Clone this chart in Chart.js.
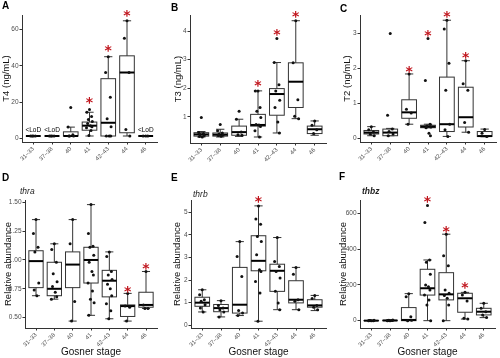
<!DOCTYPE html>
<html>
<head>
<meta charset="utf-8">
<script src="https://cdn.jsdelivr.net/npm/chart.js@4/dist/chart.umd.min.js"></script>
<style>
  body { margin: 0; background: #fff; }
  #fig { position: relative; width: 500px; height: 358px; overflow: hidden; background: #fff;
         font-family: 'Liberation Sans', Arial, sans-serif; }
  #fig canvas { position: absolute; }
  .tag { position: absolute; font-weight: bold; font-size: 10px; line-height: 10px; color: #000; }
  .gene { position: absolute; font-style: italic; font-size: 8.5px; line-height: 9px; color: #222; }
</style>
</head>
<body>
<div id="fig">
  <canvas id="c-t4" width="165" height="175" style="left:0;top:0"></canvas>
  <canvas id="c-t3" width="165" height="175" style="left:165px;top:0"></canvas>
  <canvas id="c-t2" width="170" height="175" style="left:330px;top:0"></canvas>
  <canvas id="c-thra" width="165" height="183" style="left:0;top:175px"></canvas>
  <canvas id="c-thrb" width="165" height="183" style="left:165px;top:175px"></canvas>
  <canvas id="c-thbz" width="170" height="183" style="left:330px;top:175px"></canvas>

  <div class="tag" style="left:2px;top:1px">A</div>
  <div class="tag" style="left:171px;top:3px">B</div>
  <div class="tag" style="left:340px;top:4px">C</div>
  <div class="tag" style="left:2px;top:173px">D</div>
  <div class="tag" style="left:171px;top:173px">E</div>
  <div class="tag" style="left:339px;top:172px">F</div>

  <div class="gene" style="left:20px;top:187px">thra</div>
  <div class="gene" style="left:193px;top:190px">thrb</div>
  <div class="gene" style="left:362px;top:187px;font-weight:bold">thbz</div>
</div>

<script>
// Gosner stage groups (x categories)
const stages = ['31–33', '37–38', '40', '41', '42–43', '44', '46'];

// small horizontal offsets for the dots, as a fraction of one category
const jitter = [0, -0.14, 0.11, -0.06, 0.15, -0.1, 0.05, 0.13, -0.16, 0.08, -0.03, 0.17, -0.12];

// box stats per stage: [lower whisker, q1, median, q3, upper whisker]
const t4Box = [[1.3, 1.3, 1.3, 1.3, 1.3], [1.3, 1.3, 1.3, 1.3, 1.3], [1.3, 1.3, 1.3, 3.6, 6.2],
  [1.3, 4.5, 7, 9, 14.4], [1.3, 1.3, 8.6, 32.9, 45], [1.3, 3.1, 36.3, 45.5, 64.8], [1.3, 1.3, 1.3, 1.3, 1.3]];
const t4Pts = [[1.3, 1.3, 1.3, 1.3], [1.3, 1.3, 1.3, 1.3], [17, 6.2, 2, 1.3, 1.3, 1.3],
  [15.9, 14.4, 12, 10.4, 9.3, 8.2, 7, 6.4, 5.8, 4.4, 1.6], [45, 36.3, 22.6, 10.8, 6.4, 1.3, 1.3, 1.3],
  [64.8, 55.2, 36.3, 4.9, 1.3], [1.3, 1.3, 1.3]];
const t4Stars = [null, null, null, 21, 50, 69, null];
const t4Notes = ['<LoD', '<LoD', null, null, null, null, '<LoD'];
const t4Ticks = [0, 20, 40, 60];

const t3Box = [[0.3, 0.33, 0.39, 0.45, 0.49], [0.3, 0.33, 0.38, 0.44, 0.57], [0.32, 0.36, 0.47, 0.68, 0.92],
  [0.3, 0.68, 0.72, 1.09, 1.91], [0.44, 1.06, 1.8, 1.99, 2.9], [0.94, 1.33, 2.23, 2.89, 4.36],
  [0.36, 0.42, 0.57, 0.68, 0.86]];
const t3Pts = [[0.98, 0.46, 0.42, 0.39, 0.35, 0.32, 0.3], [0.74, 0.52, 0.44, 0.4, 0.37, 0.35, 0.33],
  [1.2, 0.92, 0.47, 0.38, 0.36], [1.91, 1.91, 1.33, 1.2, 0.98, 0.74, 0.72, 0.67, 0.52, 0.3],
  [3.74, 2.9, 2.12, 1.91, 1.58, 1.33, 0.82, 0.44], [4.36, 2.89, 1.6, 1.02, 0.94], [0.86, 0.71, 0.55, 0.42]];
const t3Stars = [null, null, null, 2.19, 3.95, 4.59, null];
const t3Ticks = [1, 2, 3, 4];

const t2Box = [[0.07, 0.12, 0.16, 0.22, 0.33], [0.07, 0.07, 0.16, 0.26, 0.28], [0.4, 0.57, 0.74, 1.1, 1.84],
  [0.3, 0.3, 0.33, 0.37, 0.4], [0.05, 0.19, 0.4, 1.75, 3.38], [0.17, 0.32, 0.6, 1.46, 2.22],
  [0.04, 0.05, 0.06, 0.19, 0.26]];
const t2Pts = [[0.33, 0.24, 0.18, 0.12, 0.07], [3.0, 0.66, 0.26, 0.19, 0.12, 0.07], [1.84, 0.83, 0.72, 0.4],
  [2.86, 1.65, 0.4, 0.35, 0.32, 0.3, 0.14, 0.07], [3.38, 3.13, 2.15, 1.37, 0.4, 0.24, 0.05],
  [2.22, 1.56, 1.37, 0.45, 0.17], [0.25, 0.14, 0.05]];
const t2Stars = [null, null, 1.99, 3.0, 3.55, 2.37, null];
const t2Ticks = [0, 1, 2, 3];

const thraBox = [[0.69, 0.76, 0.99, 1.08, 1.35], [0.66, 0.69, 0.75, 0.98, 1.14], [0.47, 0.76, 0.96, 1.07, 1.35],
  [0.52, 0.8, 1.0, 1.11, 1.48], [0.49, 0.68, 0.82, 0.91, 1.07], [0.47, 0.51, 0.6, 0.61, 0.71],
  [0.58, 0.59, 0.61, 0.72, 0.9]];
const thraPts = [[1.35, 1.23, 1.11, 1.07, 0.8, 0.74, 0.69], [1.14, 1.09, 0.98, 0.88, 0.81, 0.77, 0.72, 0.68, 0.66],
  [1.35, 1.14, 0.64, 0.47], [1.48, 1.23, 1.12, 1.11, 1.04, 0.98, 0.9, 0.87, 0.8, 0.73, 0.66, 0.63, 0.52],
  [1.07, 1.03, 0.9, 0.87, 0.83, 0.79, 0.75, 0.69, 0.62, 0.56, 0.49], [0.71, 0.6, 0.59, 0.47],
  [0.9, 0.61, 0.58, 0.58]];
const thraStars = [null, null, null, null, null, 0.75, 0.95];
const thraTicks = [0.5, 0.75, 1, 1.25, 1.5];
const thraTickLabels = ['0.50', '0.75', '1.00', '1.25', '1.50'];

const thrbBox = [[0.59, 0.84, 1.0, 1.24, 1.57], [0.37, 0.6, 0.76, 0.92, 1.09], [0.43, 0.54, 0.91, 2.56, 3.7],
  [0.18, 2.41, 2.85, 3.96, 5.28], [0.69, 1.5, 2.41, 2.7, 3.88], [0.69, 0.99, 1.13, 1.97, 2.56],
  [0.65, 0.8, 0.88, 1.13, 1.32]];
const thrbPts = [[1.57, 1.35, 1.13, 1.06, 0.91, 0.76, 0.59], [1.09, 0.88, 0.76, 0.69, 0.59, 0.37],
  [3.7, 3.04, 2.16, 0.65, 0.54, 0.43], [5.28, 4.7, 4.47, 3.93, 3.7, 3.12, 2.46, 2.38, 1.94, 1.43, 0.18],
  [3.88, 2.82, 2.6, 2.38, 2.09, 1.5, 0.99, 0.69], [2.56, 2.26, 1.13, 1.06, 0.69], [1.32, 1.18, 0.88, 0.8, 0.69]];
const thrbStars = [null, null, null, 5.57, null, null, null];
const thrbTicks = [0, 1, 2, 3, 4, 5];

const thbzBox = [[0, 0, 0, 1, 2], [0, 0, 1, 2, 3], [0, 0, 4, 73, 151], [0, 143, 181, 287, 339],
  [0, 116, 147, 268, 483], [9, 47, 125, 153, 158], [17, 32, 50, 69, 97]];
const thbzPts = [[0, 0, 0, 1, 2, 1], [0, 0, 1, 2, 3, 1], [151, 134, 22, 0, 2],
  [643, 548, 339, 326, 259, 199, 190, 171, 143, 116, 88, 0], [483, 363, 307, 171, 153, 140, 125, 88, 0],
  [158, 143, 110, 13, 9], [97, 69, 50, 32, 17]];
const thbzStars = [null, null, null, 680, 513, 200, null];
const thbzTicks = [0, 200, 400, 600];

const FONT = "'Liberation Sans', Arial, sans-serif";

// Draws boxes + whiskers behind the dots, and asterisks / notes on top
const boxPlot = {
  id: 'boxPlot',
  beforeDatasetsDraw(chart) {
    const o = chart.options.plugins.boxPlot;
    const { ctx } = chart;
    const x = chart.scales.x, y = chart.scales.y;
    ctx.save();
    o.boxes.forEach((b, i) => {
      const cx = x.getPixelForValue(i + 1);
      const hw = x.getPixelForValue(i + 1.39) - cx;
      const cw = x.getPixelForValue(i + 1.22) - cx;
      const [lo, q1, med, q3, hi] = b.map((v) => y.getPixelForValue(v));
      ctx.strokeStyle = '#333';
      ctx.lineWidth = 1;
      ctx.beginPath();
      ctx.moveTo(cx, lo); ctx.lineTo(cx, hi);
      ctx.moveTo(cx - cw, lo); ctx.lineTo(cx + cw, lo);
      ctx.moveTo(cx - cw, hi); ctx.lineTo(cx + cw, hi);
      ctx.stroke();
      ctx.fillStyle = '#fff';
      ctx.fillRect(cx - hw, q3, 2 * hw, q1 - q3);
      ctx.strokeRect(cx - hw, q3, 2 * hw, q1 - q3);
      ctx.strokeStyle = '#000';
      ctx.lineWidth = 2;
      ctx.beginPath();
      ctx.moveTo(cx - hw, med); ctx.lineTo(cx + hw, med);
      ctx.stroke();
    });
    ctx.restore();
  },
  afterDatasetsDraw(chart) {
    const o = chart.options.plugins.boxPlot;
    const { ctx } = chart;
    const x = chart.scales.x, y = chart.scales.y;
    ctx.save();
    ctx.textAlign = 'center';
    ctx.fillStyle = '#c0141c';
    ctx.font = "bold 14px 'DejaVu Sans', sans-serif";
    o.stars.forEach((s, i) => {
      if (s === null) return;
      ctx.fillText('*', x.getPixelForValue(i + 1), y.getPixelForValue(s) + 7);
    });
    if (o.notes) {
      ctx.fillStyle = '#000';
      ctx.font = '6.5px ' + FONT;
      ctx.textBaseline = 'middle';
      o.notes.forEach((n, i) => {
        if (!n) return;
        ctx.fillText(n, x.getPixelForValue(i + 1), y.getPixelForValue(o.noteAt));
      });
    }
    ctx.restore();
  },
};

function makePanel(id, p) {
  const dots = p.pts.flatMap((arr, i) => arr.map((v, j) => ({ x: i + 1 + jitter[j % jitter.length], y: v })));
  const xTitle = p.xTitle || '';
  return new Chart(document.getElementById(id), {
    type: 'scatter',
    data: {
      datasets: [{ data: dots, pointRadius: 1.5, pointBackgroundColor: '#111', pointBorderWidth: 0 }],
    },
    plugins: [boxPlot],
    options: {
      responsive: false,
      animation: false,
      events: [],
      layout: { padding: { top: p.top, right: p.right, left: 0, bottom: 0 } },
      plugins: {
        legend: { display: false },
        tooltip: { enabled: false },
        boxPlot: { boxes: p.box, stars: p.stars, notes: p.notes, noteAt: p.noteAt },
      },
      scales: {
        x: {
          type: 'linear',
          min: 0.4,
          max: 7.6,
          afterBuildTicks: (s) => { s.ticks = stages.map((_, i) => ({ value: i + 1 })); },
          afterFit: (s) => { s.height = p.xHeight; },
          grid: { display: true, drawOnChartArea: false, tickLength: 2.5, color: '#333' },
          border: { display: true, color: '#333', width: 1 },
          ticks: {
            autoSkip: false, minRotation: 45, maxRotation: 45, padding: 1,
            color: '#4d4d4d', font: { size: 6, family: FONT },
            callback: (v, i) => stages[i],
          },
          title: {
            display: !!xTitle, text: xTitle, color: '#111',
            font: { size: 10, family: FONT }, padding: { top: 0, bottom: 0 },
          },
        },
        y: {
          min: p.min,
          max: p.max,
          afterBuildTicks: (s) => { s.ticks = p.ticks.map((v) => ({ value: v })); },
          afterFit: (s) => { s.width = p.yWidth; },
          grid: { display: true, drawOnChartArea: false, tickLength: 2.5, color: '#333' },
          border: { display: true, color: '#333', width: 1 },
          ticks: {
            padding: 1, color: '#4d4d4d', font: { size: 6.5, family: FONT },
            callback: (v, i) => (p.tickLabels ? p.tickLabels[i] : String(p.ticks[i])),
          },
          title: {
            display: true, text: p.yTitle, color: '#111',
            font: { size: 9.5, family: FONT }, padding: { top: p.titlePad, bottom: 0 },
          },
        },
      },
    },
  });
}

document.addEventListener('DOMContentLoaded', () => {
  makePanel('c-t4', { box: t4Box, pts: t4Pts, stars: t4Stars, notes: t4Notes, noteAt: 4.6, ticks: t4Ticks,
    min: -2, max: 68, yTitle: 'T4 (ng/mL)', yWidth: 22, titlePad: 1, top: 15, right: 8, xHeight: 33 });
  makePanel('c-t3', { box: t3Box, pts: t3Pts, stars: t3Stars, ticks: t3Ticks,
    min: 0.09, max: 4.56, yTitle: 'T3 (ng/mL)', yWidth: 25, titlePad: 8, top: 15, right: 3, xHeight: 32 });
  makePanel('c-t2', { box: t2Box, pts: t2Pts, stars: t2Stars, ticks: t2Ticks,
    min: -0.11, max: 3.53, yTitle: 'T2 (ng/mL)', yWidth: 30, titlePad: 12, top: 15, right: 1, xHeight: 33 });
  makePanel('c-thra', { box: thraBox, pts: thraPts, stars: thraStars, ticks: thraTicks, tickLabels: thraTickLabels,
    min: 0.41, max: 1.52, yTitle: 'Relative abundance', xTitle: 'Gosner stage',
    yWidth: 25, titlePad: 3, top: 25, right: 8, xHeight: 30 });
  makePanel('c-thrb', { box: thrbBox, pts: thrbPts, stars: thrbStars, ticks: thrbTicks,
    min: -0.12, max: 5.54, yTitle: 'Relative abundance', xTitle: 'Gosner stage',
    yWidth: 26, titlePad: 7, top: 25, right: 3, xHeight: 30 });
  makePanel('c-thbz', { box: thbzBox, pts: thbzPts, stars: thbzStars, ticks: thbzTicks,
    min: -41, max: 674, yTitle: 'Relative abundance', xTitle: 'Gosner stage',
    yWidth: 30, titlePad: 8, top: 25, right: 5, xHeight: 30 });
});
</script>
</body>
</html>
